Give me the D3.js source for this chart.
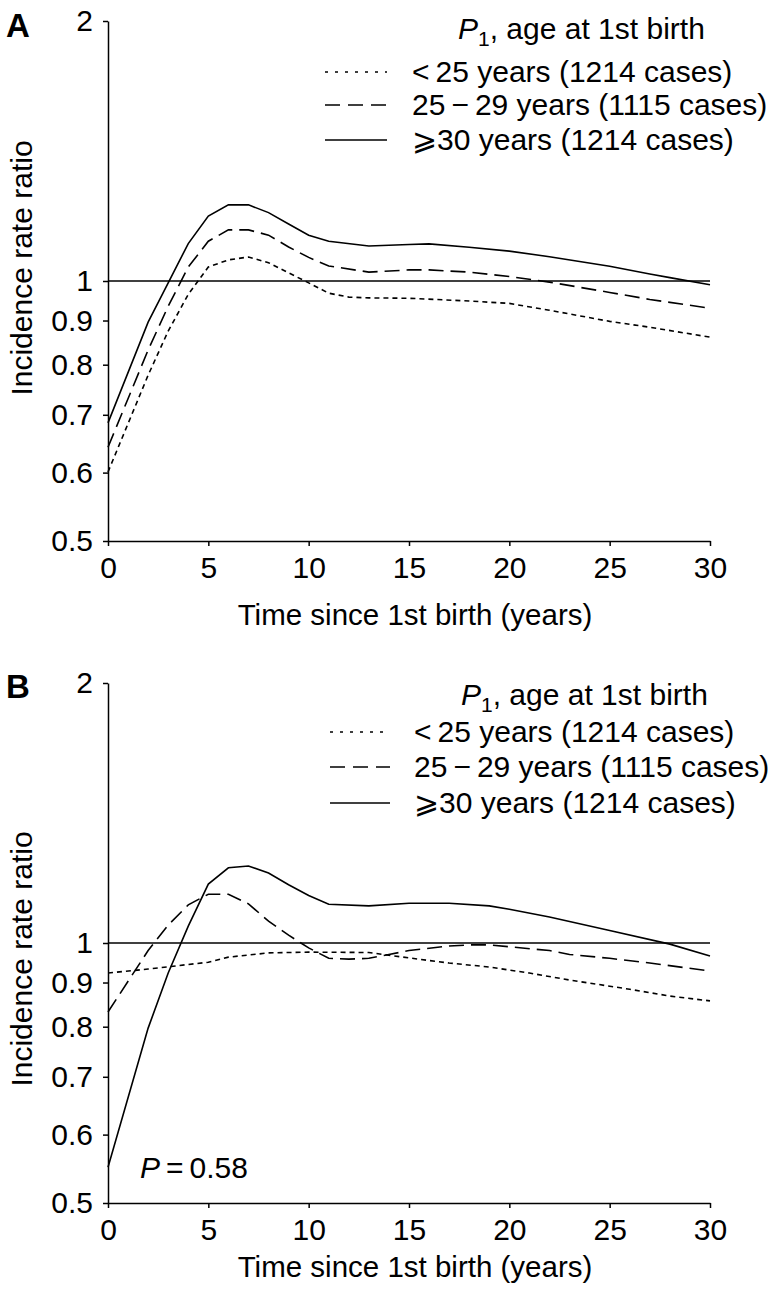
<!DOCTYPE html>
<html>
<head>
<meta charset="utf-8">
<script src="https://cdn.jsdelivr.net/npm/d3@7"></script>
<style>
  body { margin: 0; background: #fff; }
  svg text { font-family: "Liberation Sans", Arial, Helvetica, sans-serif; fill: #000; }
</style>
</head>
<body>
<div id="chart"></div>
<script>
// axis ticks
var x_ticks = [0, 5, 10, 15, 20, 25, 30];
var y_ticks = [0.5, 0.6, 0.7, 0.8, 0.9, 1, 2];

// legend text
var legend_labels = ['<\u200925 years (1214 cases)', '25\u2009\u2212\u200929 years (1115 cases)', '\u2A7E30 years (1214 cases)'];

// panel A, years since 1st birth / incidence rate ratio
var a_lt25_x = [0, 2, 3, 4, 5, 6, 7, 8, 9, 10, 11, 12, 13, 15, 18, 20, 22, 25, 27, 30];
var a_lt25_y = [0.601, 0.778, 0.875, 0.965, 1.038, 1.058, 1.066, 1.05, 1.022, 0.995, 0.968, 0.958, 0.956, 0.955, 0.948, 0.942, 0.925, 0.898, 0.884, 0.861];
var a_2529_x = [0, 2, 3, 4, 5, 6, 7, 8, 9, 10, 11, 13, 15, 16, 18, 20, 22, 25, 27, 30];
var a_2529_y = [0.642, 0.832, 0.935, 1.038, 1.112, 1.146, 1.146, 1.13, 1.095, 1.065, 1.041, 1.024, 1.03, 1.03, 1.024, 1.012, 0.997, 0.97, 0.952, 0.93];
var a_ge30_x = [0, 2, 3, 4, 5, 6, 7, 8, 9, 10, 11, 13, 15, 16, 18, 20, 22, 25, 27, 28, 30];
var a_ge30_y = [0.685, 0.896, 0.995, 1.105, 1.189, 1.225, 1.225, 1.2, 1.164, 1.13, 1.112, 1.098, 1.102, 1.104, 1.094, 1.083, 1.067, 1.04, 1.019, 1.009, 0.99];

// panel B
var b_lt25_x = [0, 2, 5, 6, 8, 10, 13, 15, 17, 19, 21, 23, 26, 28, 30];
var b_lt25_y = [0.923, 0.933, 0.95, 0.963, 0.974, 0.976, 0.975, 0.961, 0.948, 0.938, 0.923, 0.906, 0.884, 0.868, 0.857];
var b_2529_x = [0, 2, 3, 4, 5, 6, 7, 8, 9, 10, 11, 12, 13, 14, 15, 17, 18, 19, 20, 22, 23, 25, 27, 30];
var b_2529_y = [0.832, 0.98, 1.049, 1.107, 1.139, 1.139, 1.11, 1.06, 1.021, 0.987, 0.96, 0.958, 0.96, 0.97, 0.98, 0.992, 0.995, 0.995, 0.99, 0.98, 0.97, 0.96, 0.948, 0.928];
var b_ge30_x = [0, 2, 3, 4, 5, 6, 7, 8, 9, 10, 11, 13, 15, 17, 19, 20, 22, 25, 28, 30];
var b_ge30_y = [0.55, 0.797, 0.923, 1.046, 1.17, 1.222, 1.228, 1.205, 1.168, 1.135, 1.109, 1.104, 1.112, 1.112, 1.104, 1.094, 1.072, 1.034, 0.997, 0.966];

var p_value = '0.58';

// line styles for the three groups
var plot_dash = ['5,4', '15,7', null];
var legend_dash = ['3,7', '15,8', null];

var W = 776, H = 1292;
var svg = d3.select('#chart').append('svg')
  .attr('width', W)
  .attr('height', H);

var x = d3.scaleLinear().domain([0, 30]).range([108, 710]);

var panels = [
  {
    label: 'A', top: 21, bottom: 541, label_y: 37,
    series: [[a_lt25_x, a_lt25_y], [a_2529_x, a_2529_y], [a_ge30_x, a_ge30_y]],
    legend: { title_x: 458, title_y: 39, text_x: 412, rows: [82, 115, 150], line_x: [325, 387] },
    title_y: 625, ytitle_y: 268
  },
  {
    label: 'B', top: 683, bottom: 1203, label_y: 698,
    series: [[b_lt25_x, b_lt25_y], [b_2529_x, b_2529_y], [b_ge30_x, b_ge30_y]],
    legend: { title_x: 461, title_y: 705, text_x: 414, rows: [742, 777, 813], line_x: [330, 390] },
    title_y: 1277, ytitle_y: 959,
    p_text: true
  }
];

panels.forEach(function(p) {
  var y = d3.scaleLog().domain([0.5, 2]).range([p.bottom, p.top]);
  var g = svg.append('g');

  // reference line at 1
  g.append('line')
    .attr('x1', x(0)).attr('x2', x(30))
    .attr('y1', y(1)).attr('y2', y(1))
    .attr('stroke', '#000')
    .attr('stroke-width', 1.6);

  // axes
  var y_axis = d3.axisLeft(y)
    .tickValues(y_ticks)
    .tickFormat(function(d) { return String(d); })
    .tickSize(5).tickSizeOuter(0).tickPadding(10);
  var x_axis = d3.axisBottom(x)
    .tickValues(x_ticks)
    .tickSize(5).tickSizeOuter(0).tickPadding(11);

  var ya = g.append('g').attr('transform', 'translate(' + x(0) + ',0)').call(y_axis);
  var xa = g.append('g').attr('transform', 'translate(0,' + p.bottom + ')').call(x_axis);
  [ya, xa].forEach(function(a) {
    a.selectAll('path, line').attr('stroke', '#000').attr('stroke-width', 1.5);
    a.selectAll('text').attr('font-size', 30).attr('fill', '#000')
      .style('font-family', '"Liberation Sans", Arial, sans-serif');
  });

  // curves
  var line = d3.line()
    .x(function(d) { return x(d[0]); })
    .y(function(d) { return y(d[1]); });
  p.series.forEach(function(s, i) {
    var pts = s[0].map(function(v, k) { return [v, s[1][k]]; });
    g.append('path')
      .datum(pts)
      .attr('d', line)
      .attr('fill', 'none')
      .attr('stroke', '#000')
      .attr('stroke-width', 1.6)
      .attr('stroke-dasharray', plot_dash[i]);
  });

  // axis titles
  g.append('text')
    .attr('x', (x(0) + x(30)) / 2 + 6)
    .attr('y', p.title_y)
    .attr('text-anchor', 'middle')
    .attr('font-size', 29.5)
    .text('Time since 1st birth (years)');

  g.append('text')
    .attr('transform', 'translate(32,' + p.ytitle_y + ') rotate(-90)')
    .attr('text-anchor', 'middle')
    .attr('font-size', 30)
    .text('Incidence rate ratio');

  // panel letter
  g.append('text')
    .attr('x', 6)
    .attr('y', p.label_y)
    .attr('font-size', 33)
    .attr('font-weight', 'bold')
    .text(p.label);

  // legend
  var lg = p.legend;
  var t = g.append('text')
    .attr('x', lg.title_x)
    .attr('y', lg.title_y)
    .attr('font-size', 30);
  t.append('tspan').attr('font-style', 'italic').text('P');
  t.append('tspan').attr('font-size', 21).attr('dy', 7).text('1');
  t.append('tspan').attr('dy', -7).text(', age at 1st birth');

  legend_labels.forEach(function(lab, i) {
    g.append('line')
      .attr('x1', lg.line_x[0]).attr('x2', lg.line_x[1])
      .attr('y1', lg.rows[i] - 10).attr('y2', lg.rows[i] - 10)
      .attr('stroke', '#000')
      .attr('stroke-width', 1.6)
      .attr('stroke-dasharray', legend_dash[i]);
    g.append('text')
      .attr('x', lg.text_x)
      .attr('y', lg.rows[i])
      .attr('font-size', 30)
      .text(lab);
  });

  if (p.p_text) {
    var pt = g.append('text')
      .attr('x', 140)
      .attr('y', 1178)
      .attr('font-size', 30);
    pt.append('tspan').attr('font-style', 'italic').text('P');
    pt.append('tspan').text('\u2009=\u2009' + p_value);
  }
});
</script>
</body>
</html>
